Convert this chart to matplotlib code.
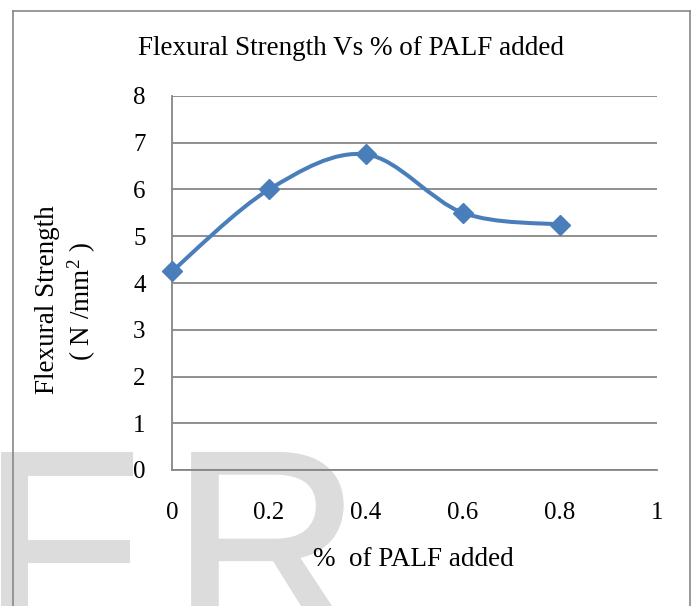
import numpy as np
import matplotlib
matplotlib.use("Agg")
import matplotlib.pyplot as plt
import matplotlib.patheffects as pe
from matplotlib.path import Path
from matplotlib.patches import PathPatch
from matplotlib.lines import Line2D

# ---- data ----
palf_pct = [0.0, 0.2, 0.4, 0.6, 0.8]
flex_strength = [4.25, 6.0, 6.75, 5.5, 5.25]
x_ticks = [0, 0.2, 0.4, 0.6, 0.8, 1]
x_tick_labels = ["0", "0.2", "0.4", "0.6", "0.8", "1"]
y_ticks = [0, 1, 2, 3, 4, 5, 6, 7, 8]
title = "Flexural Strength Vs % of PALF added"
xlabel = "%  of PALF added"
ylabel_1 = "Flexural Strength"
ylabel_2 = r"( N /mm$^{2}$ )"

plt.rcParams['font.family'] = ['Liberation Serif', 'DejaVu Serif']
plt.rcParams['mathtext.fontset'] = 'custom'
plt.rcParams['mathtext.rm'] = 'Liberation Serif'
plt.rcParams['mathtext.it'] = 'Liberation Serif'

W, H = 694, 606
fig = plt.figure(figsize=(W / 100, H / 100), dpi=100)

def fx(px):
    return px / W

def fy(py):
    return (H - py) / H

# watermark (behind everything)
wm_color = "#dcdcdc"
wm_fx = [pe.Stroke(linewidth=2.2, foreground=wm_color, joinstyle="miter"), pe.Normal()]
fig.text(fx(-20), fy(635), "F", fontsize=190, family="Liberation Sans",
         color=wm_color, ha="left", va="baseline", zorder=-5, path_effects=wm_fx)
fig.text(fx(171), fy(635), "R", fontsize=190, family="Liberation Sans",
         color=wm_color, ha="left", va="baseline", zorder=-5, path_effects=wm_fx)

# chart border
bc = "#878787"
for xs, ys in [((13, 13), (11, 606)), ((13, 690), (11, 11)), ((690, 690), (11, 606))]:
    fig.add_artist(Line2D([fx(v) for v in xs], [fy(v) for v in ys],
                          color=bc, lw=1.2, zorder=1))

ax = fig.add_axes([fx(172), fy(470), fx(657) - fx(172), fy(96) - fy(470)])
ax.set_facecolor("none")
ax.set_xlim(0, 1)
ax.set_ylim(0, 8)
ax.set_xticks(x_ticks)
ax.set_xticklabels(x_tick_labels)
ax.set_yticks(y_ticks)
ax.tick_params(axis="both", length=0, labelsize=18, colors="black")
ax.tick_params(axis="y", pad=19)
ax.tick_params(axis="x", pad=23)
gc = "#868686"
ax.grid(axis="y", color=gc, lw=1.3)
ax.set_axisbelow(True)
for s in ["top", "right"]:
    ax.spines[s].set_visible(False)
ax.spines["left"].set_color(gc)
ax.spines["bottom"].set_color(gc)
ax.spines["left"].set_linewidth(1.3)
ax.spines["bottom"].set_linewidth(1.3)

# smoothed (Excel-like) line: Catmull-Rom as cubic Bezier
pts = np.column_stack([palf_pct, flex_strength])
n = len(pts)
verts = [tuple(pts[0])]
codes = [Path.MOVETO]
for i in range(n - 1):
    p0 = pts[i - 1] if i > 0 else pts[i]
    p1 = pts[i]
    p2 = pts[i + 1]
    p3 = pts[i + 2] if i + 2 < n else pts[i + 1]
    c1 = p1 + (p2 - p0) / 6.0
    c2 = p2 - (p3 - p1) / 6.0
    verts += [tuple(c1), tuple(c2), tuple(p2)]
    codes += [Path.CURVE4] * 3
line_color = "#4a7ebb"
ax.add_patch(PathPatch(Path(verts, codes), facecolor="none", edgecolor=line_color,
                       lw=2.9, capstyle="round", joinstyle="round", zorder=3))
ax.plot(palf_pct, flex_strength, linestyle="none", marker="D", markersize=10.5,
        color=line_color, zorder=4, clip_on=False)

fig.text(fx(351), fy(55), title, fontsize=19.5, ha="center", va="baseline")
fig.text(fx(413), fy(560), xlabel, fontsize=19.5, ha="center", va="center")
fig.text(fx(48), fy(300), ylabel_1, fontsize=19.5, ha="center", va="center", rotation=90)
fig.text(fx(82), fy(302), ylabel_2, fontsize=19.5, ha="center", va="center", rotation=90)

fig.savefig("out.png", dpi=100)
